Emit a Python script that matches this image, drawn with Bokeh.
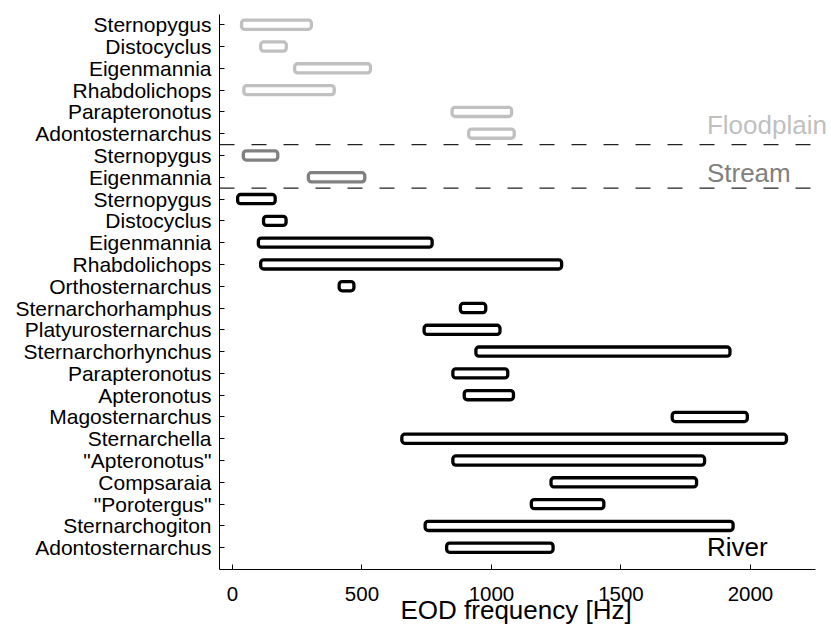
from bokeh.plotting import figure
from bokeh.models import ColumnDataSource, FixedTicker, Range1d, Label, Title
from bokeh.embed import file_html
from bokeh.resources import INLINE

floodplain_names = ["Sternopygus", "Distocyclus", "Eigenmannia", "Rhabdolichops",
                    "Parapteronotus", "Adontosternarchus"]
floodplain_lo = [35, 109, 240, 44, 848, 912]
floodplain_hi = [305, 208, 533, 393, 1078, 1088]

stream_names = ["Sternopygus", "Eigenmannia"]
stream_lo = [42, 293]
stream_hi = [175, 511]

river_names = ["Sternopygus", "Distocyclus", "Eigenmannia", "Rhabdolichops",
               "Orthosternarchus", "Sternarchorhamphus", "Platyurosternarchus",
               "Sternarchorhynchus", "Parapteronotus", "Apteronotus",
               "Magosternarchus", "Sternarchella", "\"Apteronotus\"", "Compsaraia",
               "\"Porotergus\"", "Sternarchogiton", "Adontosternarchus"]
river_lo = [20, 120, 100, 109, 412, 880, 740, 940, 851, 895, 1698, 654, 851, 1230, 1154, 744, 827]
river_hi = [165, 207, 771, 1271, 469, 978, 1033, 1921, 1063, 1085, 1988, 2139, 1823, 1792, 1434, 1933, 1238]

x_ticks = [0, 500, 1000, 1500, 2000]
x_label = "EOD frequency [Hz]"

group_names = ["Floodplain", "Stream", "River"]
group_colors = ["#c0c0c0", "#808080", "#000000"]
group_label_y = [19.42, 17.21, 0.05]

groups = [
    (floodplain_names, floodplain_lo, floodplain_hi),
    (stream_names, stream_lo, stream_hi),
    (river_names, river_lo, river_hi),
]

n_total = sum(len(g[0]) for g in groups)
FONT = "Liberation Sans"
X_LO, X_HI = -50, 2250

p = figure(width=831, height=634, output_backend="svg", toolbar_location=None,
           x_range=Range1d(X_LO, 2313), y_range=Range1d(-1, n_total - 1 + 0.47),
           min_border_left=219, min_border_right=0, min_border_top=14,
           min_border_bottom=65)
p.outline_line_color = None
p.grid.visible = False
p.background_fill_color = "white"

labels = {}
idx = 0
boundaries = []
for gi, (names, lo, hi) in enumerate(groups):
    col = group_colors[gi]
    ys = [n_total - 1 - (idx + k) for k in range(len(names))]
    for y, nm in zip(ys, names):
        labels[y] = nm
    src = ColumnDataSource(dict(y=ys, left=lo, right=hi))
    p.hbar(y="y", left="left", right="right", height=0.42, source=src,
           fill_color="white", line_color=col, line_width=3.3, border_radius=3)
    idx += len(names)
    if gi < len(groups) - 1:
        boundaries.append(n_total - 1 - idx + 0.5)

p.segment(x0=[X_LO] * len(boundaries), x1=[X_HI] * len(boundaries),
          y0=boundaries, y1=boundaries, line_color="#222222",
          line_width=1.2, line_dash="15 17")

for nm, col, yy in zip(group_names, group_colors, group_label_y):
    p.add_layout(Label(x=1832, y=yy, text=nm, text_color=col, text_font=FONT,
                       text_font_size="26px", text_align="left",
                       text_baseline="middle"))

# axes
p.yaxis.ticker = FixedTicker(ticks=list(range(n_total)))
p.yaxis.major_label_overrides = {k: v for k, v in labels.items()}
p.yaxis.minor_tick_line_color = None
p.yaxis.major_tick_in = 5
p.yaxis.major_tick_out = 0
p.yaxis.major_label_standoff = 8
p.yaxis.major_label_text_font = FONT
p.yaxis.major_label_text_font_size = "21px"
p.yaxis.major_label_text_color = "black"

p.xaxis.ticker = FixedTicker(ticks=x_ticks)
p.xaxis.bounds = (X_LO, X_HI)
p.xaxis.minor_tick_line_color = None
p.xaxis.major_tick_in = 5
p.xaxis.major_tick_out = 0
p.xaxis.major_label_standoff = 17
p.xaxis.major_label_text_font = FONT
p.xaxis.major_label_text_font_size = "20.5px"
p.xaxis.major_label_text_color = "black"

for ax in (p.xaxis, p.yaxis):
    ax.axis_line_color = "black"
    ax.axis_line_width = 1
    ax.major_tick_line_color = "black"
    ax.major_tick_line_width = 1

p.add_layout(Title(text=x_label, align="left", offset=181, standoff=-18,
                   vertical_align="top", text_font=FONT, text_font_size="26px",
                   text_font_style="normal", text_color="black"), "below")

open("out.html", "w").write(file_html(p, INLINE))
